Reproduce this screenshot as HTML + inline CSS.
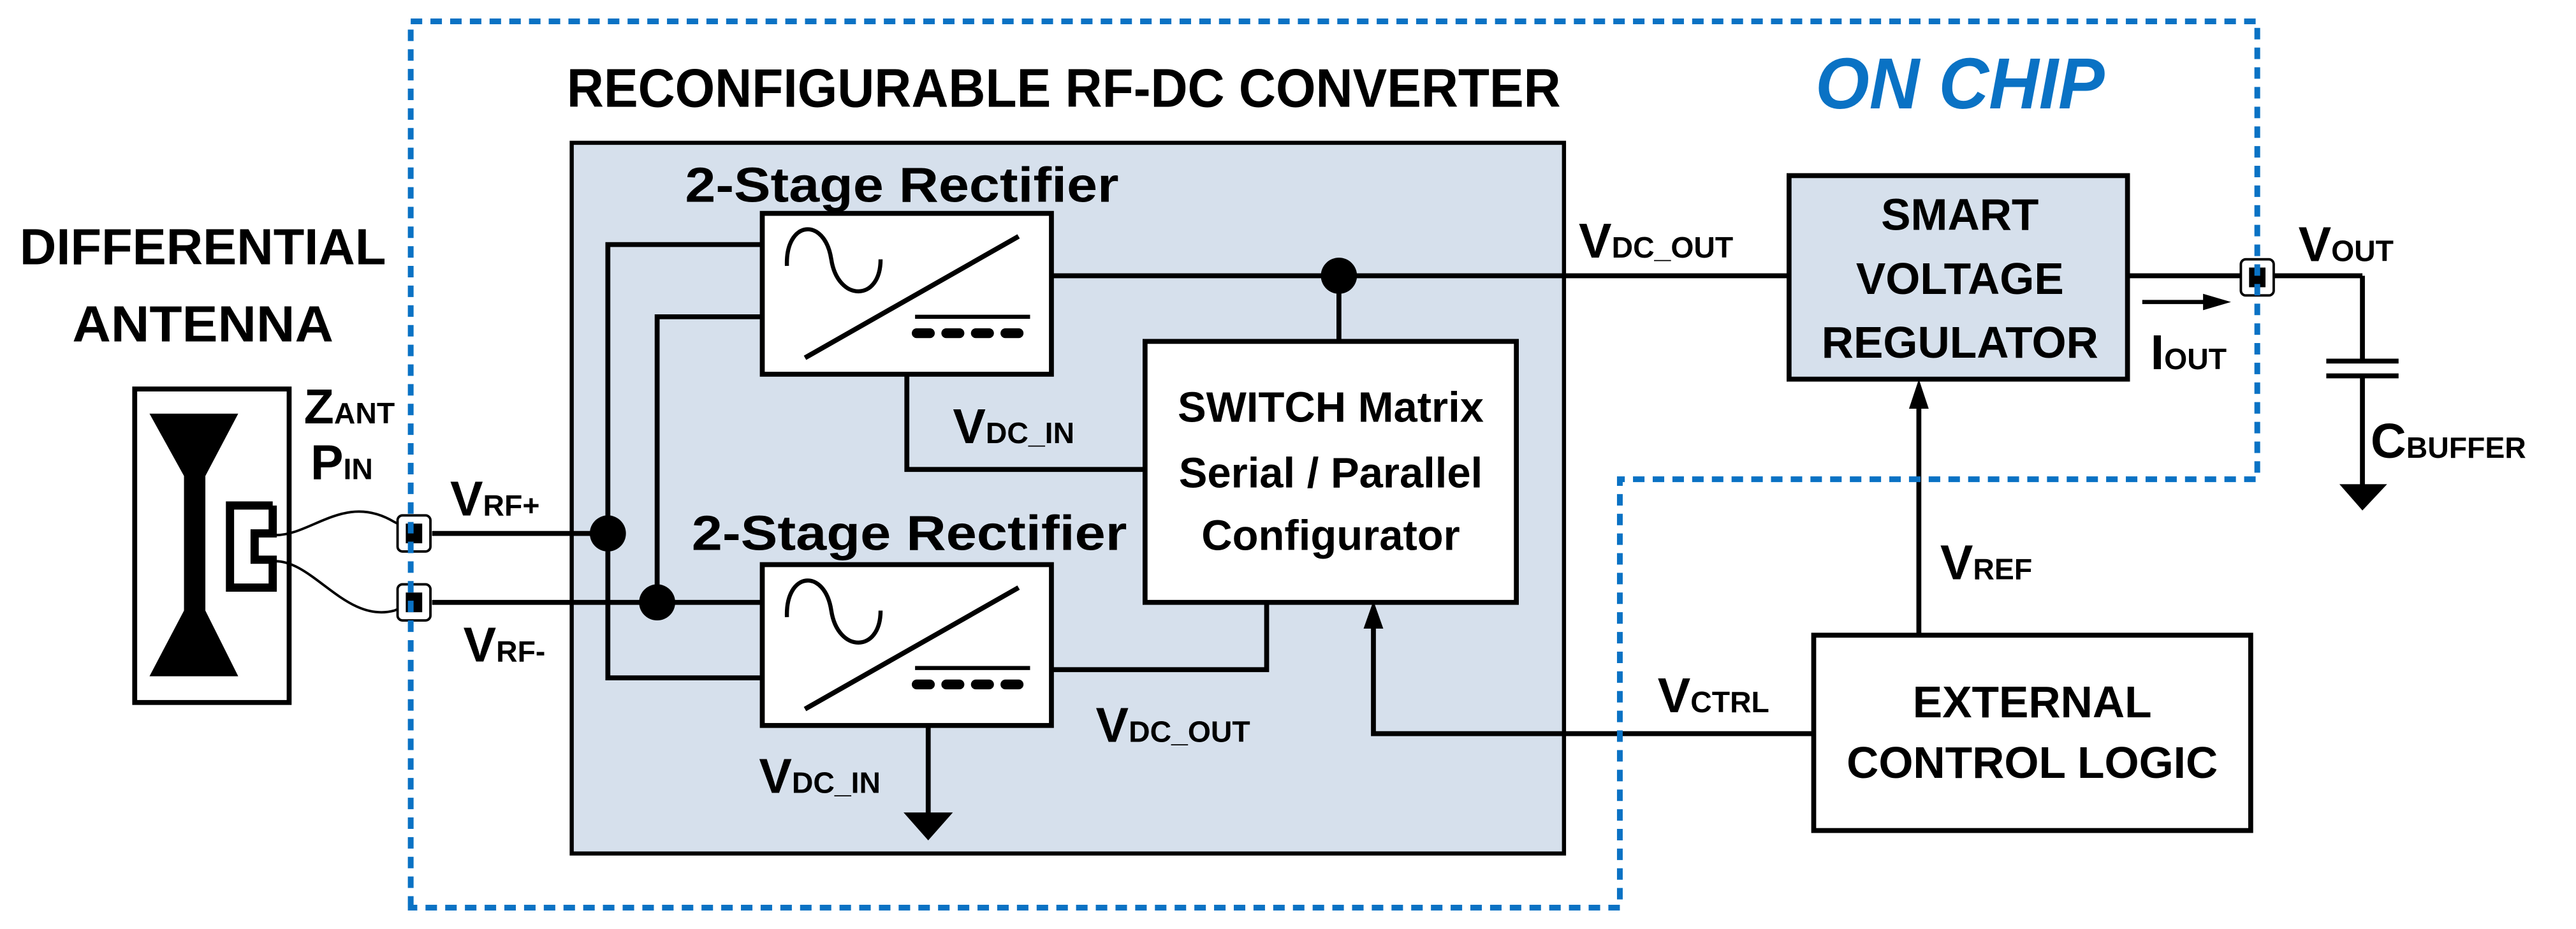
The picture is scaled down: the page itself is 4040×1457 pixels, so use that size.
<!DOCTYPE html>
<html><head><meta charset="utf-8"><style>html,body{margin:0;padding:0;background:#fff}svg{display:block}</style></head>
<body>
<svg width="4040" height="1457" viewBox="0 0 1568 566" preserveAspectRatio="none" xmlns="http://www.w3.org/2000/svg" font-family="'Liberation Sans', sans-serif" font-weight="bold">
<defs>
<g id="rect">
<rect x="0" y="0" width="176" height="98" fill="#fff" stroke="#000" stroke-width="3"/>
<path d="M15,32 C14,4 38,2 42,28 C46,54 72,54 72,28" fill="none" stroke="#000" stroke-width="2.5"/>
<line x1="26" y1="88" x2="156" y2="14" stroke="#000" stroke-width="3"/>
<line x1="93" y1="63" x2="163" y2="63" stroke="#000" stroke-width="2.5"/>
<g fill="#000"><rect x="91" y="70" width="14" height="6" rx="3"/><rect x="109" y="70" width="14" height="6" rx="3"/><rect x="127" y="70" width="14" height="6" rx="3"/><rect x="145" y="70" width="14" height="6" rx="3"/></g>
</g>
<g id="pad"><rect x="-10" y="-11" width="20" height="22" rx="3" fill="#fff" stroke="#000" stroke-width="1.5"/><rect x="-5" y="-6" width="10" height="12" fill="#000"/></g>
</defs>

<rect x="348" y="87" width="604" height="433" fill="#d6e0ec" stroke="#000" stroke-width="2.5"/>

<g stroke="#000" stroke-width="3" fill="none">
<line x1="263" y1="325" x2="370" y2="325"/>
<line x1="263" y1="367" x2="464" y2="367"/>
<polyline points="464,149 370,149 370,413 464,413"/>
<polyline points="464,193 400,193 400,367"/>
<polyline points="552,228 552,286 697,286"/>
<line x1="640" y1="168" x2="1089" y2="168"/>
<line x1="815" y1="168" x2="815" y2="208"/>
<polyline points="640,408 771,408 771,367"/>
<line x1="565" y1="442" x2="565" y2="497"/>
<polyline points="1104,447 836,447 836,380"/>
<line x1="1168" y1="387" x2="1168" y2="245"/>
<line x1="1295" y1="168" x2="1438" y2="168"/>
<line x1="1438" y1="168" x2="1438" y2="220"/>
<line x1="1438" y1="229" x2="1438" y2="297"/>
<line x1="1416" y1="220" x2="1460" y2="220"/>
<line x1="1416" y1="229" x2="1460" y2="229"/>
<line x1="1304" y1="184" x2="1345" y2="184" stroke-width="2.5"/>
</g>
<g fill="#000">
<circle cx="370" cy="325" r="11"/>
<circle cx="400" cy="367" r="11"/>
<circle cx="815" cy="168" r="11"/>
<polygon points="550,495 580,495 565,512"/>
<polygon points="1424,295 1453,295 1438,311"/>
<polygon points="830,383 842,383 836,366"/>
<polygon points="1162,249 1174,249 1168,231"/>
<polygon points="1341,179 1358,184 1341,189"/>
</g>

<use href="#rect" x="464" y="130"/>
<use href="#rect" x="464" y="344"/>

<rect x="697" y="208" width="226" height="159" fill="#fff" stroke="#000" stroke-width="3"/>
<rect x="1089" y="107" width="206" height="124" fill="#d6e0ec" stroke="#000" stroke-width="3"/>
<rect x="1104" y="387" width="266" height="119" fill="#fff" stroke="#000" stroke-width="3"/>

<rect x="82" y="237" width="94" height="191" fill="#fff" stroke="#000" stroke-width="3"/>
<g fill="#000">
<polygon points="91,252 145,252 125,290 125,372 145,412 91,412 112,372 112,290"/>
</g>
<polyline points="166,308 140,308 140,358 166,358 166,341 155,341 155,325 166,325 166,308" fill="none" stroke="#000" stroke-width="5"/>
<path d="M168,326 C190,326 210,300 240,318 L252,324" fill="none" stroke="#000" stroke-width="1.5"/>
<path d="M166,342 C190,340 210,380 240,372 L252,367" fill="none" stroke="#000" stroke-width="1.5"/>
<use href="#pad" x="252" y="325"/>
<use href="#pad" x="252" y="367"/>
<use href="#pad" x="1374" y="169"/>

<path d="M250,553 L250,13 L1374,13 L1374,292 L986,292 L986,553 Z" fill="none" stroke="#0a72c4" stroke-width="3.5" stroke-dasharray="7,5"/>

<g fill="#000">
<text x="345" y="65" font-size="33" textLength="605" lengthAdjust="spacingAndGlyphs">RECONFIGURABLE RF-DC CONVERTER</text>
<text x="1105" y="66" font-size="44" font-style="italic" fill="#0a72c4" textLength="176" lengthAdjust="spacingAndGlyphs">ON CHIP</text>
<text x="12" y="161" font-size="31" textLength="223" lengthAdjust="spacingAndGlyphs">DIFFERENTIAL</text>
<text x="44" y="208" font-size="31" textLength="159" lengthAdjust="spacingAndGlyphs">ANTENNA</text>
<text x="417" y="123" font-size="30" textLength="264" lengthAdjust="spacingAndGlyphs">2-Stage Rectifier</text>
<text x="421" y="335" font-size="30" textLength="265" lengthAdjust="spacingAndGlyphs">2-Stage Rectifier</text>
<g font-size="26" text-anchor="middle">
<text x="810" y="257">SWITCH Matrix</text>
<text x="810" y="297">Serial / Parallel</text>
<text x="810" y="335">Configurator</text>
<text x="1193" y="140" font-size="27">SMART</text>
<text x="1193" y="179" font-size="27">VOLTAGE</text>
<text x="1193" y="218" font-size="27">REGULATOR</text>
<text x="1237" y="437" font-size="27">EXTERNAL</text>
<text x="1237" y="474" font-size="27">CONTROL LOGIC</text>
</g>
<g font-size="30">
<text x="185" y="258">Z<tspan font-size="18">ANT</tspan></text>
<text x="189" y="292">P<tspan font-size="18">IN</tspan></text>
<text x="274" y="314">V<tspan font-size="18">RF+</tspan></text>
<text x="282" y="403">V<tspan font-size="18">RF-</tspan></text>
<text x="580" y="270">V<tspan font-size="18">DC_IN</tspan></text>
<text x="462" y="483">V<tspan font-size="18">DC_IN</tspan></text>
<text x="667" y="452">V<tspan font-size="18">DC_OUT</tspan></text>
<text x="961" y="157">V<tspan font-size="18">DC_OUT</tspan></text>
<text x="1399" y="159">V<tspan font-size="18">OUT</tspan></text>
<text x="1309" y="225">I<tspan font-size="18">OUT</tspan></text>
<text x="1443" y="279">C<tspan font-size="18">BUFFER</tspan></text>
<text x="1181" y="353">V<tspan font-size="18">REF</tspan></text>
<text x="1009" y="434">V<tspan font-size="18">CTRL</tspan></text>
</g>
</g>
</svg>
</body></html>
